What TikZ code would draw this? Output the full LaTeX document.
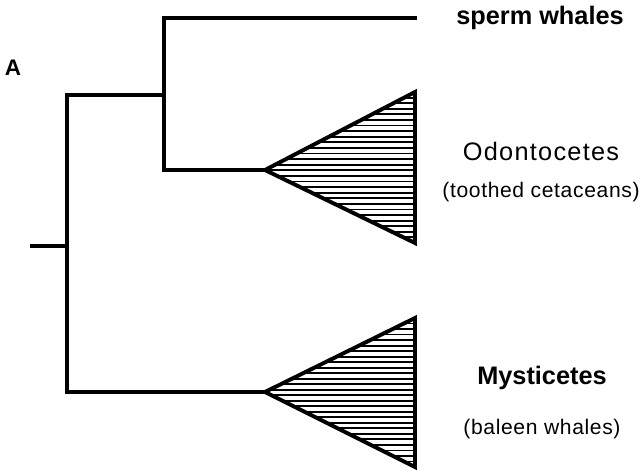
\documentclass[tikz,border=0pt]{standalone}
\usepackage{fontspec}
\setmainfont{Liberation Sans}
\usetikzlibrary{positioning,calc}

\begin{document}
\begin{tikzpicture}[
        x=0.025cm, y=-0.025cm,
        branch/.style={line width=2.3pt,line cap=rect},
        clade/.style={line width=2.8pt,line join=miter},
        hatch/.style={line width=1.3pt},
        taxon/.style={font=\fontsize{18}{22}\selectfont\bfseries},
        common/.style={font=\fontsize{15}{18}\selectfont\addfontfeatures{LetterSpace=3}},
        node distance=0.35cm
      ]
      \useasboundingbox (0,0) rectangle (644,472);

      % tree points
      \coordinate (root) at (32,246);
      \coordinate (n1) at (67,95);
      \coordinate (n2) at (164,95);
      \coordinate (spermtip) at (415,18);
      \coordinate (odoapex) at (265,170);
      \coordinate (odotop) at (415,92);
      \coordinate (odobot) at (415,243);
      \coordinate (mysapex) at (265,392);
      \coordinate (mystop) at (415,318);
      \coordinate (mysbot) at (415,467);

      \node[font=\fontsize{16}{18}\selectfont\bfseries] (lblA) at (13,68) {A};
      \node[taxon] (sperm) at (540,18) {sperm whales};
      \node[font=\fontsize{18}{22}\selectfont\addfontfeatures{LetterSpace=5}] (odo) at (541,151) {Odontocetes};
      \node[common] (toothed) [below=0.3cm of odo] {(toothed cetaceans)};
      \node[taxon] (mys) at (542,378) {Mysticetes};
      \node[common] (baleen) [below=0.48cm of mys] {(baleen whales)};

      \draw[branch] (root) -- (root -| n1);
      \draw[branch] (spermtip) -| (n2) |- (odoapex);
      \draw[branch] (n2) -- (n1) |- (mysapex);

      \foreach \ap/\tp/\bt in {odoapex/odotop/odobot, mysapex/mystop/mysbot} {
        \begin{scope}
          \clip (\ap) -- (\tp) -- (\bt) -- cycle;
          \foreach \k in {1,...,26}
            \draw[hatch] ($(\tp)!\k/27!(\bt)$) -- ++(-150,0);
        \end{scope}
        \draw[clade] (\ap) -- (\tp) -- (\bt) -- cycle;
      }
    \end{tikzpicture}
\end{document}
